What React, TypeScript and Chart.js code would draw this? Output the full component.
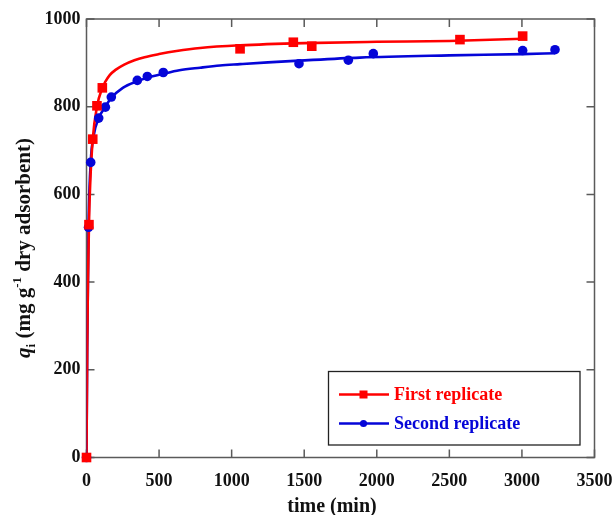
import React, { useEffect, useRef } from 'react';
import { Chart, registerables } from 'chart.js';

Chart.register(...registerables);

// ---- data ----
const xTickValues = [0, 500, 1000, 1500, 2000, 2500, 3000, 3500];
const yTickValues = [0, 200, 400, 600, 800, 1000];

const firstTime = [0, 17, 43, 72, 109, 1058, 1425, 1552, 2573, 3005];
const firstQ = [0, 531, 726, 802, 843, 932, 947, 938, 953, 961];

const secondTime = [0, 14, 29, 84, 130, 171, 350, 419, 529, 1464, 1804, 1976, 3005, 3228];
const secondQ = [0, 525, 673, 774, 799, 822, 860, 869, 878, 898, 906, 921, 928, 930];

// fitted model curves
const firstFitTime = [0, 5, 10, 17, 25, 43, 72, 109, 130, 160, 200, 260, 330, 400, 500, 620, 783, 1058, 1500, 2000, 2500, 3005];
const firstFitQ = [0, 250, 400, 531, 620, 726, 800, 843, 857, 872, 884, 896, 906, 913, 920, 927, 934, 940, 945, 948, 950, 955];

const secondFitTime = [0, 5, 14, 29, 50, 84, 130, 171, 250, 350, 419, 529, 640, 783, 920, 1058, 1250, 1464, 1884, 2500, 3005, 3228];
const secondFitQ = [0, 250, 525, 673, 735, 774, 800, 820, 843, 858, 866, 875, 883, 889, 894, 897, 901, 905, 912, 917, 920, 922];

const seriesNames = ['First replicate', 'Second replicate'];
const RED = '#ff0000';
const BLUE = '#0505d8';
const SERIF = '"Liberation Serif", "Times New Roman", serif';

const toXY = (xs: number[], ys: number[]) => xs.map((x, i) => ({ x, y: ys[i] }));

const framePlugin = {
  id: 'frameAndExtras',
  beforeDatasetsDraw(chart: any) {
    const { ctx, chartArea, scales } = chart;
    const { left, right, top, bottom } = chartArea;
    ctx.save();
    ctx.strokeStyle = '#5a5a5a';
    ctx.lineWidth = 1.5;
    ctx.strokeRect(left, top, right - left, bottom - top);
    const tl = 8;
    ctx.beginPath();
    xTickValues.forEach((v) => {
      const px = scales.x.getPixelForValue(v);
      ctx.moveTo(px, bottom);
      ctx.lineTo(px, bottom - tl);
      ctx.moveTo(px, top);
      ctx.lineTo(px, top + tl);
    });
    yTickValues.forEach((v) => {
      const py = scales.y.getPixelForValue(v);
      ctx.moveTo(left, py);
      ctx.lineTo(left + tl, py);
      ctx.moveTo(right, py);
      ctx.lineTo(right - tl, py);
    });
    ctx.stroke();
    ctx.restore();
  },
  afterDraw(chart: any) {
    const { ctx } = chart;
    ctx.save();
    // legend box
    const bx = 328.5, by = 371.5, bw = 251.5, bh = 73.5;
    ctx.fillStyle = '#ffffff';
    ctx.fillRect(bx, by, bw, bh);
    ctx.strokeStyle = '#222';
    ctx.lineWidth = 1.3;
    ctx.strokeRect(bx, by, bw, bh);
    const rows = [
      { y: 394.5, color: RED, name: seriesNames[0], square: true },
      { y: 423.5, color: BLUE, name: seriesNames[1], square: false },
    ];
    rows.forEach((r) => {
      ctx.strokeStyle = r.color;
      ctx.lineWidth = 2.5;
      ctx.beginPath();
      ctx.moveTo(339, r.y);
      ctx.lineTo(389, r.y);
      ctx.stroke();
      ctx.fillStyle = r.color;
      if (r.square) {
        ctx.fillRect(363.5 - 4, r.y - 4, 8, 8);
      } else {
        ctx.beginPath();
        ctx.arc(363.5, r.y, 3.6, 0, Math.PI * 2);
        ctx.fill();
      }
      ctx.font = `bold 18px ${SERIF}`;
      ctx.textBaseline = 'middle';
      ctx.textAlign = 'left';
      ctx.fillText(r.name, 394, r.y + 1);
    });

    // x title
    ctx.fillStyle = '#111';
    ctx.font = `bold 20px ${SERIF}`;
    ctx.textAlign = 'center';
    ctx.textBaseline = 'middle';
    ctx.fillText('time (min)', 332, 507);

    // y title (rotated, with italic q, subscript i, superscript -1)
    const segs = [
      { t: 'q', font: `italic bold 21px ${SERIF}`, dy: 0 },
      { t: 'i', font: `bold 13px ${SERIF}`, dy: 5 },
      { t: ' (mg g', font: `bold 21px ${SERIF}`, dy: 0 },
      { t: '-1', font: `bold 13px ${SERIF}`, dy: -9 },
      { t: ' dry adsorbent)', font: `bold 21px ${SERIF}`, dy: 0 },
    ];
    let total = 0;
    const widths = segs.map((s) => {
      ctx.font = s.font;
      const w = ctx.measureText(s.t).width;
      total += w;
      return w;
    });
    ctx.translate(30, 248);
    ctx.rotate(-Math.PI / 2);
    ctx.textAlign = 'left';
    ctx.textBaseline = 'alphabetic';
    let cx = -total / 2;
    segs.forEach((s, i) => {
      ctx.font = s.font;
      ctx.fillText(s.t, cx, s.dy);
      cx += widths[i];
    });
    ctx.restore();
  },
};

export default function App() {
  const ref = useRef<HTMLCanvasElement | null>(null);
  useEffect(() => {
    if (!ref.current) return;
    const chart = new Chart(ref.current, {
      type: 'scatter',
      data: {
        datasets: [
          {
            label: seriesNames[0] + ' points',
            data: toXY(firstTime, firstQ),
            showLine: false,
            pointStyle: 'rect',
            pointRadius: 6.8,
            backgroundColor: RED,
            borderColor: RED,
            borderWidth: 0,
            clip: false,
            order: 0,
          },
          {
            label: seriesNames[1] + ' points',
            data: toXY(secondTime, secondQ),
            showLine: false,
            pointStyle: 'circle',
            pointRadius: 4.8,
            backgroundColor: BLUE,
            borderColor: BLUE,
            borderWidth: 0,
            clip: false,
            order: 1,
          },
          {
            label: seriesNames[0] + ' fit',
            data: toXY(firstFitTime, firstFitQ),
            showLine: true,
            pointRadius: 0,
            borderColor: RED,
            borderWidth: 2.6,
            cubicInterpolationMode: 'monotone',
            order: 2,
          },
          {
            label: seriesNames[1] + ' fit',
            data: toXY(secondFitTime, secondFitQ),
            showLine: true,
            pointRadius: 0,
            borderColor: BLUE,
            borderWidth: 2.6,
            cubicInterpolationMode: 'monotone',
            order: 3,
          },
        ],
      },
      options: {
        animation: false,
        responsive: false,
        devicePixelRatio: 1,
        layout: { padding: { left: 0, top: 19, right: 17.5, bottom: 0 } },
        plugins: { legend: { display: false }, tooltip: { enabled: false } },
        scales: {
          x: {
            type: 'linear',
            min: 0,
            max: 3500,
            afterBuildTicks: (s: any) => {
              s.ticks = xTickValues.map((v) => ({ value: v }));
            },
            ticks: {
              font: { family: SERIF, size: 18, weight: 'bold' },
              color: '#111',
              padding: 13,
              maxRotation: 0,
              autoSkip: false,
              callback: (v: any) => String(v),
            },
            grid: { display: false, drawTicks: false },
            border: { display: false },
            afterFit: (s: any) => {
              s.height = 57.5;
              s.paddingLeft = 0;
              s.paddingRight = 0;
            },
          },
          y: {
            type: 'linear',
            min: 0,
            max: 1000,
            afterBuildTicks: (s: any) => {
              s.ticks = yTickValues.map((v) => ({ value: v }));
            },
            ticks: {
              font: { family: SERIF, size: 18, weight: 'bold' },
              color: '#111',
              padding: 6,
              autoSkip: false,
              callback: (v: any) => String(v),
            },
            grid: { display: false, drawTicks: false },
            border: { display: false },
            afterFit: (s: any) => {
              s.width = 86.5;
              s.paddingTop = 0;
              s.paddingBottom = 0;
            },
          },
        },
      },
      plugins: [framePlugin],
    } as any);
    return () => chart.destroy();
  }, []);
  return (
    <div style={{ position: 'absolute', left: 0, top: 0, width: 612, height: 515, background: '#fff' }}>
      <canvas ref={ref} width={612} height={515} style={{ width: 612, height: 515, display: 'block' }} />
    </div>
  );
}
